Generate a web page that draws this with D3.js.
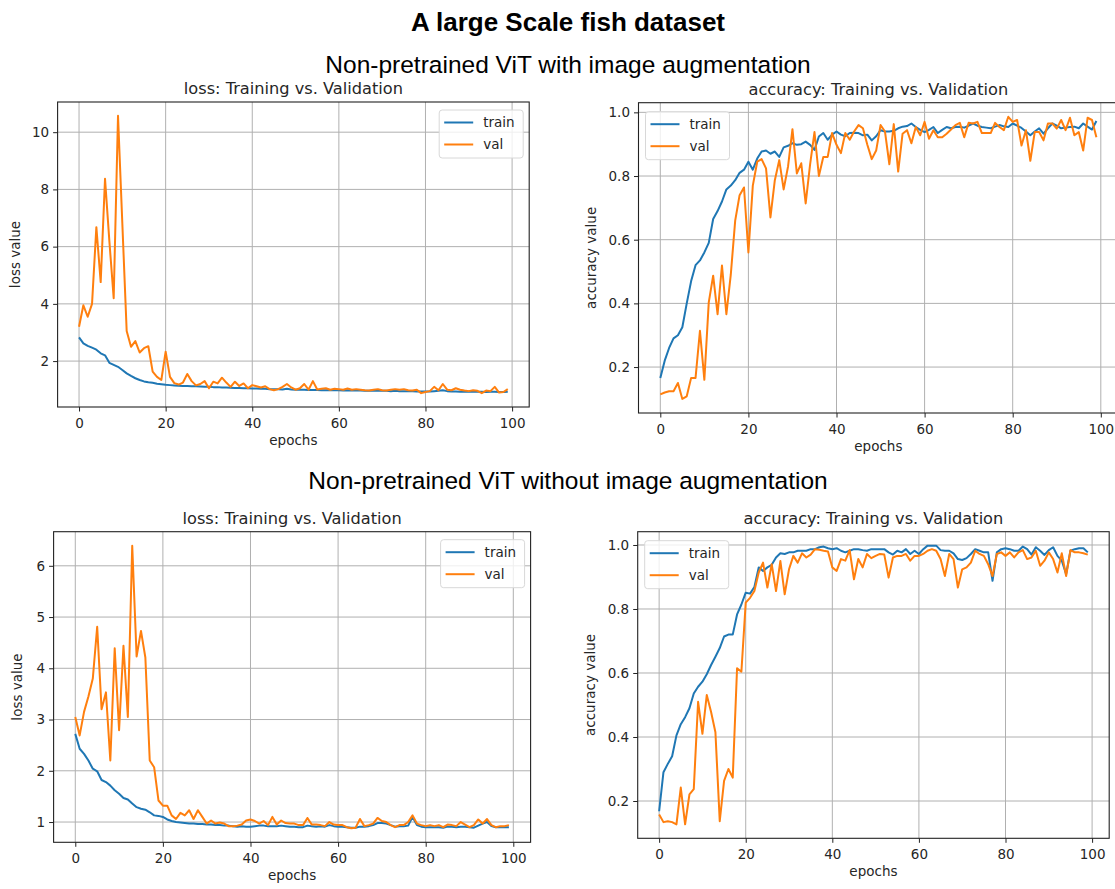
<!DOCTYPE html>
<html>
<head>
<meta charset="utf-8">
<script src="https://cdn.jsdelivr.net/npm/d3@7"></script>
<style>
  body { margin: 0; background: #fff; }
  svg { display: block; }
</style>
</head>
<body>
<script>
// epochs 0..99 on the x axis
const epochs = d3.range(100);
const xTicks = [0, 20, 40, 60, 80, 100];

// with image augmentation
const augTrainLoss = [2.83,2.62,2.53,2.47,2.4,2.27,2.2,1.94,1.87,1.8,
  1.69,1.57,1.48,1.4,1.34,1.29,1.26,1.24,1.21,1.19,
  1.17,1.16,1.15,1.14,1.13,1.13,1.12,1.12,1.11,1.1,
  1.1,1.09,1.09,1.08,1.08,1.07,1.06,1.06,1.05,1.05,
  1.04,1.04,1.03,1.03,1.02,1.02,1.02,1.01,1.03,1.01,
  1.0,1.0,1.0,0.99,0.99,0.99,0.98,0.98,0.99,0.98,
  0.98,0.97,0.98,0.97,0.97,0.97,0.96,0.96,0.97,0.96,
  0.96,0.96,0.95,0.96,0.95,0.95,0.95,0.95,0.94,0.94,
  0.94,0.94,0.95,0.96,0.98,0.95,0.94,0.94,0.93,0.93,
  0.94,0.93,0.93,0.93,0.92,0.93,0.93,0.92,0.92,0.93];
const augValLoss = [3.2,3.95,3.55,4.0,6.68,4.76,8.37,6.2,4.2,10.57,
  6.8,3.05,2.5,2.7,2.3,2.45,2.52,1.63,1.45,1.34,
  2.33,1.45,1.23,1.18,1.25,1.55,1.3,1.15,1.2,1.3,
  1.05,1.28,1.22,1.42,1.25,1.1,1.28,1.13,1.22,1.05,
  1.16,1.12,1.08,1.12,1.02,0.98,1.02,1.1,1.2,1.08,
  1.0,1.05,1.2,1.0,1.3,1.01,1.03,1.05,1.0,1.03,
  1.02,1.0,1.04,1.0,1.02,1.0,0.98,0.97,1.0,1.02,
  0.98,0.97,1.0,1.02,1.0,1.02,0.98,0.97,1.0,0.88,
  0.92,0.95,1.1,0.98,1.2,1.0,0.98,1.05,1.0,0.97,
  0.95,0.98,0.96,0.88,0.97,0.95,1.1,0.9,0.92,1.02];
const augTrainAcc = [0.166,0.22,0.26,0.29,0.30,0.325,0.40,0.47,0.52,0.535,
  0.56,0.59,0.665,0.69,0.72,0.758,0.77,0.787,0.81,0.82,
  0.845,0.82,0.855,0.877,0.88,0.87,0.877,0.86,0.89,0.895,
  0.903,0.898,0.9,0.908,0.898,0.882,0.924,0.935,0.914,0.93,
  0.94,0.93,0.925,0.935,0.936,0.935,0.928,0.93,0.912,0.925,
  0.944,0.94,0.94,0.942,0.95,0.955,0.957,0.965,0.954,0.945,
  0.938,0.945,0.954,0.935,0.945,0.954,0.95,0.954,0.955,0.952,
  0.958,0.965,0.958,0.954,0.952,0.95,0.955,0.96,0.956,0.954,
  0.965,0.958,0.951,0.94,0.928,0.94,0.95,0.933,0.95,0.965,
  0.958,0.95,0.952,0.954,0.955,0.95,0.965,0.955,0.946,0.973];
const augValAcc = [0.114,0.12,0.124,0.124,0.15,0.10,0.108,0.166,0.166,0.314,
  0.16,0.403,0.487,0.366,0.519,0.366,0.49,0.66,0.74,0.764,
  0.56,0.77,0.845,0.853,0.824,0.67,0.787,0.85,0.758,0.83,
  0.947,0.808,0.84,0.714,0.836,0.938,0.8,0.86,0.86,0.935,
  0.898,0.872,0.935,0.914,0.94,0.96,0.95,0.898,0.853,0.88,
  0.96,0.94,0.837,0.963,0.814,0.933,0.944,0.903,0.954,0.928,
  0.97,0.917,0.944,0.922,0.922,0.933,0.946,0.96,0.967,0.922,
  0.967,0.965,0.97,0.935,0.935,0.935,0.967,0.954,0.944,0.986,
  0.97,0.976,0.896,0.944,0.848,0.938,0.938,0.912,0.965,0.965,
  0.949,0.976,0.944,0.983,0.928,0.938,0.88,0.983,0.976,0.922];

// without image augmentation
const noAugTrainLoss = [2.72,2.43,2.33,2.2,2.04,1.99,1.82,1.78,1.71,1.62,
  1.55,1.47,1.44,1.36,1.29,1.26,1.24,1.19,1.13,1.12,
  1.1,1.05,1.02,1.0,0.99,0.98,0.97,0.97,0.96,0.96,
  0.95,0.95,0.94,0.94,0.93,0.93,0.92,0.91,0.92,0.91,
  0.91,0.92,0.93,0.93,0.92,0.92,0.92,0.93,0.92,0.91,
  0.91,0.9,0.9,0.93,0.92,0.91,0.92,0.91,0.94,0.92,
  0.91,0.91,0.9,0.89,0.89,0.91,0.91,0.92,0.94,0.98,
  0.98,0.97,0.94,0.91,0.92,0.92,0.93,1.1,0.94,0.91,
  0.9,0.9,0.9,0.9,0.89,0.91,0.91,0.9,0.91,0.91,
  0.9,0.89,0.93,0.97,1.0,0.92,0.9,0.9,0.9,0.9];
const noAugValLoss = [3.05,2.69,3.15,3.45,3.8,4.81,3.2,3.53,2.2,4.39,
  2.79,4.44,3.05,6.39,4.23,4.73,4.21,2.2,2.07,1.42,
  1.32,1.32,1.13,1.06,1.18,1.13,1.23,1.06,1.23,1.1,
  0.97,1.03,0.97,0.99,0.97,0.92,0.92,0.93,0.95,1.03,
  1.05,1.02,0.97,1.02,0.94,1.1,0.95,1.03,0.98,0.97,
  0.97,0.94,0.94,1.08,0.95,0.95,0.94,0.92,1.0,0.95,
  0.94,0.94,0.9,0.88,0.89,1.06,0.92,0.94,0.97,1.08,
  1.02,1.0,0.94,0.9,0.94,0.94,1.0,1.13,0.97,0.94,
  0.92,0.94,0.92,0.94,0.9,0.95,0.94,0.92,1.0,0.95,
  0.9,0.94,1.05,0.97,1.06,0.94,0.9,0.92,0.92,0.94];
const noAugTrainAcc = [0.168,0.29,0.316,0.34,0.405,0.44,0.462,0.49,0.536,0.557,
  0.573,0.596,0.625,0.651,0.678,0.714,0.72,0.72,0.783,0.814,
  0.851,0.848,0.869,0.93,0.919,0.93,0.938,0.961,0.974,0.972,
  0.977,0.977,0.982,0.982,0.982,0.987,0.987,0.993,0.995,0.99,
  0.987,0.99,0.982,0.977,0.982,0.987,0.987,0.984,0.982,0.987,
  0.987,0.987,0.987,0.977,0.97,0.982,0.977,0.987,0.972,0.982,
  0.972,0.987,0.998,0.998,0.998,0.984,0.982,0.982,0.974,0.956,
  0.953,0.959,0.972,0.987,0.982,0.977,0.977,0.888,0.977,0.987,
  0.99,0.987,0.982,0.982,0.995,0.987,0.97,0.993,0.982,0.969,
  0.984,0.993,0.966,0.951,0.909,0.982,0.987,0.99,0.99,0.977];
const noAugValAcc = [0.158,0.134,0.137,0.134,0.127,0.242,0.127,0.221,0.237,0.51,
  0.41,0.531,0.478,0.415,0.137,0.263,0.30,0.273,0.615,0.604,
  0.82,0.835,0.856,0.914,0.945,0.867,0.94,0.856,0.95,0.846,
  0.924,0.966,0.945,0.974,0.961,0.97,0.987,0.985,0.982,0.98,
  0.93,0.919,0.956,0.951,0.984,0.893,0.956,0.93,0.972,0.959,
  0.966,0.972,0.97,0.898,0.961,0.966,0.966,0.972,0.951,0.966,
  0.966,0.972,0.982,0.987,0.982,0.956,0.903,0.972,0.956,0.867,
  0.924,0.93,0.945,0.982,0.972,0.966,0.94,0.903,0.972,0.977,
  0.966,0.977,0.961,0.977,0.984,0.956,0.961,0.982,0.935,0.951,
  0.977,0.956,0.914,0.974,0.903,0.984,0.977,0.977,0.974,0.97];

const augLossTicks = [2, 4, 6, 8, 10];
const noAugLossTicks = [1, 2, 3, 4, 5, 6];
const accTicks = [0.2, 0.4, 0.6, 0.8, 1.0];

const seriesNames = ["train", "val"];
const colors = {train: "#1f77b4", val: "#ff7f0e"};

const W = 1115, H = 889;
const panelFont = "DejaVu Sans, sans-serif";
const headFont = "Liberation Sans, Arial, sans-serif";

const svg = d3.select("body").append("svg")
    .attr("width", W)
    .attr("height", H);

svg.append("rect").attr("width", W).attr("height", H).attr("fill", "#fff");

// figure headings
svg.append("text")
    .attr("x", 568).attr("y", 31)
    .attr("text-anchor", "middle")
    .style("font-family", headFont).style("font-weight", "bold").style("font-size", "26px")
    .text("A large Scale fish dataset");
svg.append("text")
    .attr("x", 568).attr("y", 73)
    .attr("text-anchor", "middle")
    .style("font-family", headFont).style("font-size", "24.5px")
    .text("Non-pretrained ViT with image augmentation");
svg.append("text")
    .attr("x", 568).attr("y", 489)
    .attr("text-anchor", "middle")
    .style("font-family", headFont).style("font-size", "24.5px")
    .text("Non-pretrained ViT without image augmentation");

const panels = [
    {l: 57.6, r: 529.2, t: 102, b: 407, title: "loss: Training vs. Validation", ylabel: "loss value",
     train: augTrainLoss, val: augValLoss, yTicks: augLossTicks, fmt: d3.format("d"), legend: "right", ylabOff: 42},
    {l: 638.5, r: 1118.2, t: 102.7, b: 413, title: "accuracy: Training vs. Validation", ylabel: "accuracy value",
     train: augTrainAcc, val: augValAcc, yTicks: accTicks, fmt: d3.format(".1f"), legend: "left", ylabOff: 47},
    {l: 53.6, r: 530.6, t: 531.7, b: 842.3, title: "loss: Training vs. Validation", ylabel: "loss value",
     train: noAugTrainLoss, val: noAugValLoss, yTicks: noAugLossTicks, fmt: d3.format("d"), legend: "right", ylabOff: 36},
    {l: 637.7, r: 1109.2, t: 531.7, b: 838.3, title: "accuracy: Training vs. Validation", ylabel: "accuracy value",
     train: noAugTrainAcc, val: noAugValAcc, yTicks: accTicks, fmt: d3.format(".1f"), legend: "left", ylabOff: 47}
];

panels.forEach(drawPanel);

function drawPanel(p) {
    const g = svg.append("g");

    // matplotlib style autoscale: 5% margin on each side
    const xPad = (d3.max(epochs) - d3.min(epochs)) * 0.05;
    const x = d3.scaleLinear()
        .domain([d3.min(epochs) - xPad, d3.max(epochs) + xPad])
        .range([p.l, p.r]);
    const ext = d3.extent(p.train.concat(p.val));
    const yPad = (ext[1] - ext[0]) * 0.05;
    const y = d3.scaleLinear()
        .domain([ext[0] - yPad, ext[1] + yPad])
        .range([p.b, p.t]);

    // grid
    g.append("g").selectAll("line").data(xTicks).join("line")
        .attr("x1", d => x(d)).attr("x2", d => x(d))
        .attr("y1", p.t).attr("y2", p.b)
        .attr("stroke", "#b0b0b0").attr("stroke-width", 1);
    g.append("g").selectAll("line").data(p.yTicks).join("line")
        .attr("x1", p.l).attr("x2", p.r)
        .attr("y1", d => y(d)).attr("y2", d => y(d))
        .attr("stroke", "#b0b0b0").attr("stroke-width", 1);

    // axes
    const xAxis = g.append("g")
        .attr("transform", "translate(0," + p.b + ")")
        .call(d3.axisBottom(x).tickValues(xTicks).tickSize(4.5).tickPadding(6.5));
    const yAxis = g.append("g")
        .attr("transform", "translate(" + p.l + ",0)")
        .call(d3.axisLeft(y).tickValues(p.yTicks).tickFormat(p.fmt).tickSize(4.5).tickPadding(4));
    [xAxis, yAxis].forEach(a => {
        a.select(".domain").remove();
        a.selectAll(".tick line").attr("stroke", "#222").attr("stroke-width", 1);
        a.selectAll(".tick text")
            .attr("fill", "#262626")
            .style("font-family", panelFont)
            .style("font-size", "13.5px");
    });

    // lines
    const line = d3.line()
        .x((d, i) => x(epochs[i]))
        .y(d => y(d));
    seriesNames.forEach(name => {
        g.append("path")
            .datum(p[name])
            .attr("d", line)
            .attr("fill", "none")
            .attr("stroke", colors[name])
            .attr("stroke-width", 2)
            .attr("stroke-linejoin", "round");
    });

    // frame
    g.append("rect")
        .attr("x", p.l).attr("y", p.t)
        .attr("width", p.r - p.l).attr("height", p.b - p.t)
        .attr("fill", "none").attr("stroke", "#222").attr("stroke-width", 1.1);

    // legend
    const bw = 84, bh = 48;
    const bx = p.legend === "right" ? p.r - 6 - bw : p.l + 7;
    const by = p.legend === "right" ? p.t + 8 : p.t + 9;
    const leg = g.append("g").attr("transform", "translate(" + bx + "," + by + ")");
    leg.append("rect")
        .attr("width", bw).attr("height", bh).attr("rx", 3)
        .attr("fill", "#fff").attr("fill-opacity", 0.8)
        .attr("stroke", "#d8d8d8").attr("stroke-width", 1);
    seriesNames.forEach((name, i) => {
        const ly = 12.5 + i * 22;
        leg.append("line")
            .attr("x1", 5).attr("x2", 34).attr("y1", ly).attr("y2", ly)
            .attr("stroke", colors[name]).attr("stroke-width", 2);
        leg.append("text")
            .attr("x", 44).attr("y", ly).attr("dy", "0.35em")
            .attr("fill", "#262626")
            .style("font-family", panelFont).style("font-size", "13.5px")
            .text(name);
    });

    // titles and labels
    g.append("text")
        .attr("x", (p.l + p.r) / 2).attr("y", p.t - 8)
        .attr("text-anchor", "middle").attr("fill", "#262626")
        .style("font-family", panelFont).style("font-size", "16.2px")
        .text(p.title);
    g.append("text")
        .attr("x", (p.l + p.r) / 2).attr("y", p.b + 38)
        .attr("text-anchor", "middle").attr("fill", "#262626")
        .style("font-family", panelFont).style("font-size", "13.5px")
        .text("epochs");
    g.append("text")
        .attr("transform", "translate(" + (p.l - p.ylabOff) + "," + (p.t + p.b) / 2 + ") rotate(-90)")
        .attr("text-anchor", "middle").attr("dy", "0.35em").attr("fill", "#262626")
        .style("font-family", panelFont).style("font-size", "13.5px")
        .text(p.ylabel);
}
</script>
</body>
</html>
